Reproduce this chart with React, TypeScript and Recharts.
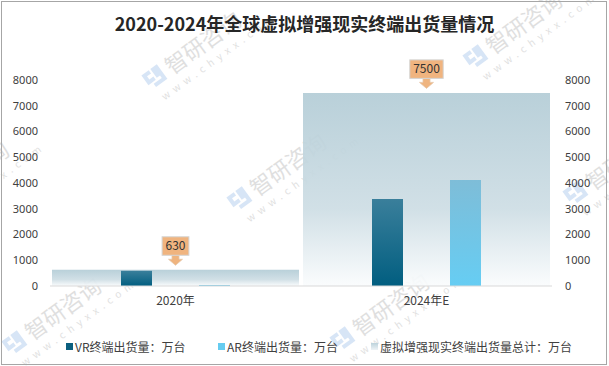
import { Bar, BarChart, LabelList, XAxis, YAxis } from "recharts";

const categories = ["2020年", "2024年E"];
const vrShipments = [590, 3380];
const arShipments = [40, 4120];
const totalShipments = [630, 7500];
const yTicks = [0, 1000, 2000, 3000, 4000, 5000, 6000, 7000, 8000];
const seriesNames = [
  "VR终端出货量：万台",
  "AR终端出货量：万台",
  "虚拟增强现实终端出货量总计：万台",
];
const title = "2020-2024年全球虚拟增强现实终端出货量情况";

const data = categories.map((name, i) => ({
  name,
  vr: vrShipments[i],
  ar: arShipments[i],
  total: totalShipments[i],
}));

const FONT = '"Noto Sans CJK SC", "Noto Sans", sans-serif';

// 水印位置（装饰用）
const watermarkSpots = [
  [152, 90],
  [473, 70],
  [237, 212],
  [573, 206],
  [-80, 220],
  [12, 356],
  [340, 352],
];

// 橙色标注框 + 向下箭头
const Callout = (props: any) => {
  const { x, y, width, value } = props;
  const cx = x + width / 2;
  const text = String(value);
  const w = text.length * 6.6 + 7;
  const boxBottom = y - 14.5;
  const boxTop = boxBottom - 18.5;
  const neck = y - 10.5;
  const tip = y - 4.5;
  return (
    <g>
      <polygon
        points={`${cx - 3.5},${boxBottom} ${cx + 3.5},${boxBottom} ${cx + 3.5},${neck} ${cx + 7},${neck} ${cx},${tip} ${cx - 7},${neck} ${cx - 3.5},${neck}`}
        fill="#efb47f"
        stroke="#e6c6a8"
        strokeWidth={0.8}
      />
      <rect x={cx - w / 2} y={boxTop} width={w} height={18.5} fill="#f0b47f" stroke="#d4d4d4" />
      <text x={cx} y={boxTop + 13.5} textAnchor="middle" fontSize={12} fill="#333" fontFamily={FONT}>
        {text}
      </text>
    </g>
  );
};

const Watermarks = () => (
  <svg width={609} height={366} style={{ position: "absolute", left: 0, top: 0, pointerEvents: "none" }}>
    {watermarkSpots.map(([x, y], i) => (
      <g key={i} transform={`translate(${x},${y}) rotate(-36)`} opacity={0.35}>
        <path d="M0,-18 h9 v4 h-5 v4 h5 v4 h-9 z" fill="#8fb6e6" />
        <path d="M11,-18 h8 v18 h-14 v-4 h10 v-3 h-4 z" fill="#8fb6e6" />
        <text x={25} y={0} fontSize={22} fill="#a6a6a6" fontFamily={FONT}>
          智研咨询
        </text>
        <text x={4} y={16} fontSize={10} fill="#a6a6a6" fontFamily={FONT} letterSpacing={5}>
          www.chyxx.com
        </text>
      </g>
    ))}
  </svg>
);

const tickStyle = { fill: "#404040", fontSize: 11, fontFamily: '"Noto Sans", sans-serif' };

export default function App() {
  const legendItems = [
    { name: seriesNames[0], color: "#0b5f7f", left: 66 },
    { name: seriesNames[1], color: "#66ccf0", left: 218 },
    { name: seriesNames[2], color: "linear-gradient(#bcd2db, #eef3f6)", left: 371 },
  ];

  return (
    <div style={{ position: "absolute", left: 0, top: 0, width: 609, height: 366, background: "#fff", fontFamily: FONT, overflow: "hidden" }}>
      <Watermarks />

      <div style={{ position: "absolute", left: 0, top: 0 }}>
        <BarChart width={609} height={366} data={data} margin={{ top: 80, right: 0, bottom: 50, left: 0 }} barGap={47}>
          <defs>
            <linearGradient id="gTotal" x1="0" y1="0" x2="0" y2="1">
              <stop offset="0%" stopColor="#b3ccd6" />
              <stop offset="60%" stopColor="#cddde4" />
              <stop offset="100%" stopColor="#fafcfd" />
            </linearGradient>
            <linearGradient id="gVR" x1="0" y1="0" x2="0" y2="1">
              <stop offset="0%" stopColor="#3a7f9b" />
              <stop offset="100%" stopColor="#015e80" />
            </linearGradient>
            <linearGradient id="gAR" x1="0" y1="0" x2="0" y2="1">
              <stop offset="0%" stopColor="#7ebdd8" />
              <stop offset="100%" stopColor="#66cdf3" />
            </linearGradient>
          </defs>
          <XAxis xAxisId="total" dataKey="name" hide />
          <XAxis
            xAxisId="main"
            dataKey="name"
            height={30}
            tickSize={0}
            tickMargin={10}
            axisLine={{ stroke: "#d9d9d9" }}
            tickLine={false}
            tick={{ fill: "#404040", fontSize: 12, fontFamily: FONT }}
          />
          <YAxis
            yAxisId="left"
            orientation="left"
            width={50}
            type="number"
            domain={[0, 8000]}
            ticks={yTicks}
            interval={0}
            axisLine={false}
            tickLine={false}
            tickSize={0}
            tickMargin={12}
            tick={tickStyle}
          />
          <YAxis
            yAxisId="right"
            orientation="right"
            width={57}
            type="number"
            domain={[0, 8000]}
            allowDataOverflow
            ticks={yTicks}
            interval={0}
            axisLine={false}
            tickLine={false}
            tickSize={0}
            tickMargin={13}
            tick={tickStyle}
          />
          <Bar xAxisId="total" yAxisId="left" dataKey="total" barSize={247} fill="url(#gTotal)" fillOpacity={0.92} isAnimationActive={false}>
            <LabelList dataKey="total" content={Callout} />
          </Bar>
          <Bar xAxisId="main" yAxisId="left" dataKey="vr" barSize={31} fill="url(#gVR)" isAnimationActive={false} />
          <Bar xAxisId="main" yAxisId="left" dataKey="ar" barSize={31} fill="url(#gAR)" isAnimationActive={false} />
        </BarChart>
      </div>

      <div
        style={{
          position: "absolute",
          left: 0,
          top: 11,
          width: 609,
          textAlign: "center",
          fontSize: 18,
          fontWeight: 700,
          lineHeight: "24px",
          color: "#262626",
        }}
      >
        {title}
      </div>

      {legendItems.map((item) => (
        <div
          key={item.name}
          style={{
            position: "absolute",
            left: item.left,
            top: 338,
            height: 16,
            display: "flex",
            alignItems: "center",
            fontSize: 12,
            color: "#404040",
            whiteSpace: "nowrap",
          }}
        >
          <span style={{ width: 7, height: 7, background: item.color, marginRight: 2, display: "inline-block" }} />
          <span>{item.name}</span>
        </div>
      ))}

      <div
        style={{
          position: "absolute",
          left: 1,
          top: 1,
          width: 606,
          height: 364,
          border: "1px solid #a6a6a6",
          boxSizing: "border-box",
        }}
      />
    </div>
  );
}
